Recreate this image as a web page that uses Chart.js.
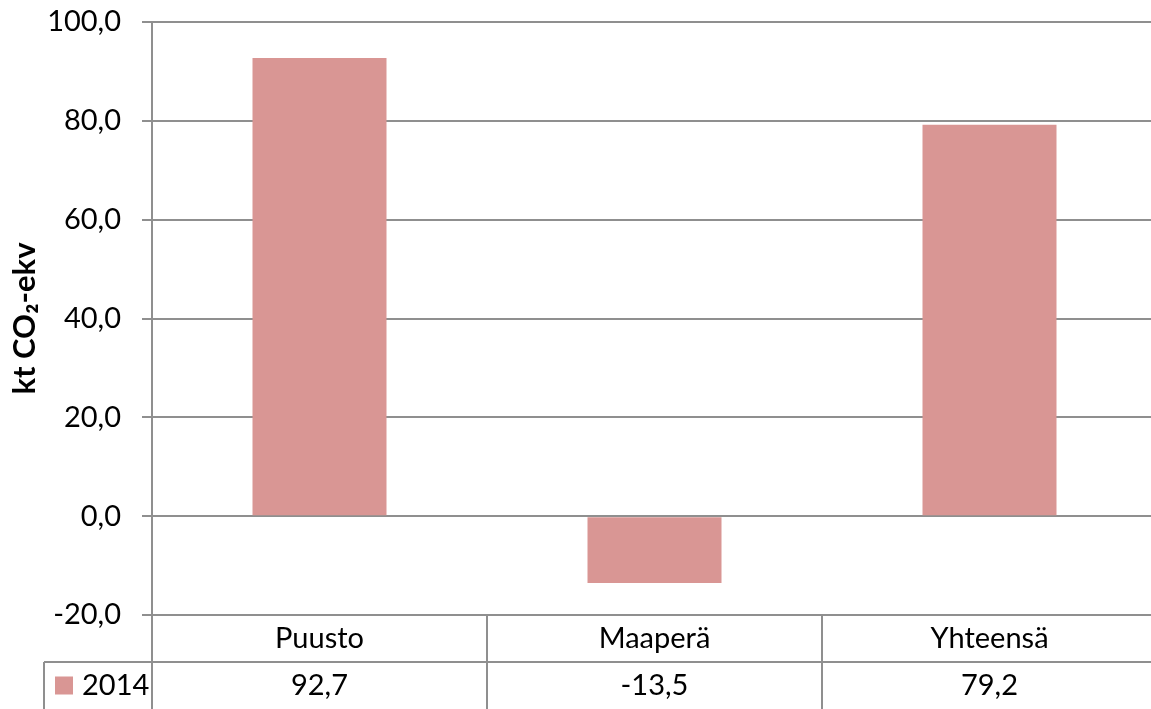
<!DOCTYPE html>
<html>
<head>
<meta charset="utf-8">
<script src="https://cdn.jsdelivr.net/npm/chart.js@4"></script>
<style>
  html, body { margin: 0; padding: 0; background: #ffffff; overflow: hidden; }
  #wrap { position: relative; width: 1157px; height: 709px; }
</style>
</head>
<body>
<div id="wrap"><canvas id="c"></canvas></div>
<script>
// Carbon balance by component, kt CO2-eq
const categories = ['Puusto', 'Maaperä', 'Yhteensä'];
const seriesName = '2014';
const values2014 = [92.7, -13.5, 79.2];
const yTicks = [-20, 0, 20, 40, 60, 80, 100];

const barColor = '#D99694';
const lineColor = '#8f8f8f';
const textColor = '#000000';
const fontFamily = 'Lato, "Open Sans", sans-serif';
const fontSize = 29;

const fmt = v => v.toFixed(1).replace('.', ',');

// Data table under the plot: category row, then legend key + values row
const dataTable = {
  id: 'dataTable',
  afterDraw(chart) {
    const ctx = chart.ctx;
    const area = chart.chartArea;
    const x = chart.scales.x;
    const n = categories.length;
    const cw = (area.right - area.left) / n;
    const top = area.bottom;
    const bottom = chart.height;
    const rowH = (bottom - top) / 2;
    const rowLine = Math.round(top + rowH);
    const keyLeft = 44;

    ctx.save();
    ctx.strokeStyle = lineColor;
    ctx.lineWidth = 2;
    ctx.beginPath();
    // row separator
    ctx.moveTo(keyLeft, rowLine);
    ctx.lineTo(area.right, rowLine);
    // left edge of the key cell
    ctx.moveTo(keyLeft, rowLine);
    ctx.lineTo(keyLeft, bottom);
    // column separators
    for (let i = 0; i <= n; i++) {
      const bx = Math.round(area.left + i * cw);
      ctx.moveTo(bx, top);
      ctx.lineTo(bx, bottom);
    }
    ctx.stroke();

    ctx.fillStyle = textColor;
    ctx.font = fontSize + 'px ' + fontFamily;
    ctx.textAlign = 'center';
    ctx.textBaseline = 'middle';
    categories.forEach((c, i) => {
      const cx = x.getPixelForValue(i);
      ctx.fillText(c, cx, top + rowH / 2);
      ctx.fillText(fmt(values2014[i]), cx, rowLine + rowH / 2);
    });

    // legend key
    ctx.fillStyle = barColor;
    ctx.fillRect(55, rowLine + rowH / 2 - 9, 18, 18);
    ctx.fillStyle = textColor;
    ctx.textAlign = 'left';
    ctx.fillText(seriesName, 82, rowLine + rowH / 2);
    ctx.restore();
  }
};

new Chart(document.getElementById('c'), {
  type: 'bar',
  data: {
    labels: categories,
    datasets: [{
      label: seriesName,
      data: values2014,
      backgroundColor: barColor,
      borderWidth: 0,
      categoryPercentage: 1.0,
      barPercentage: 0.4
    }]
  },
  options: {
    responsive: true,
    maintainAspectRatio: false,
    animation: false,
    layout: { padding: { top: 0, bottom: 94, left: 0, right: 0 } },
    plugins: {
      legend: { display: false },
      tooltip: { enabled: false }
    },
    scales: {
      x: {
        display: false
      },
      y: {
        min: -20,
        max: 100,
        afterFit(scale) {
          scale.width = 152;
          scale.paddingTop = 22;
          scale.paddingBottom = 20;
        },
        afterBuildTicks(scale) { scale.ticks = yTicks.map(v => ({ value: v })); },
        border: { display: true, color: lineColor, width: 2 },
        grid: {
          color: lineColor,
          lineWidth: 2,
          tickLength: 10,
          drawTicks: true
        },
        ticks: {
          padding: 21,
          color: textColor,
          font: { family: fontFamily, size: fontSize },
          callback: v => fmt(v)
        },
        title: {
          display: true,
          text: 'kt CO₂-ekv',
          color: textColor,
          font: { family: fontFamily, size: 31, weight: 'bold' },
          padding: { top: 6, bottom: 0 }
        }
      }
    }
  },
  plugins: [dataTable]
});
</script>
</body>
</html>
